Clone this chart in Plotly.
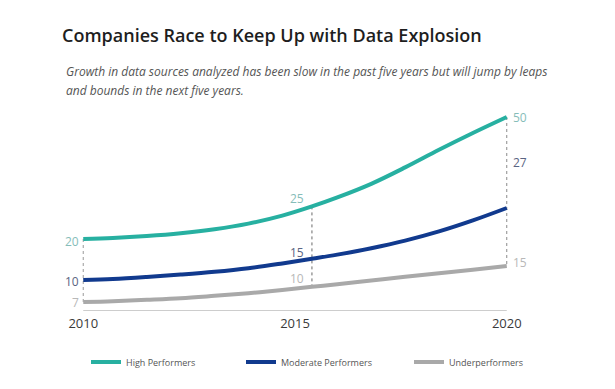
import plotly.graph_objects as go

# ---- data ----
years = [2010, 2010.7, 2011.5, 2012.3, 2013.1, 2013.9, 2014.7, 2015.4,
         2016.0, 2016.8, 2017.6, 2018.4, 2019.2, 2020]
# curve heights on the chart's own (illustrative, not to scale) 0-100 index
high_curve = [36, 36.5, 37.5, 38.9, 40.9, 43.7, 47.7, 52.3, 56.8, 63.6, 71.8, 80.6, 89, 97]
moderate_curve = [15.5, 16, 17, 18.2, 19.6, 21.4, 23.8, 26.1, 28.2, 31.4, 35.2, 39.8, 45.3, 51.5]
under_curve = [4.5, 4.9, 5.6, 6.4, 7.6, 8.9, 10.5, 12.1, 13.4, 15.3, 17.1, 18.9, 20.6, 22.5]

marker_idx = [0, 7, 13]           # points where values are called out
high_labels = ["20", "25", "50"]
moderate_labels = ["10", "15", "27"]
under_labels = ["7", "10", "15"]

tick_vals = [2010, 2015, 2020]
tick_text = ["2010", "2015", "2020"]

series_names = ["High Performers", "Moderate Performers", "Underperformers"]

# ---- styles ----
TEAL = "#27b0a1"
NAVY = "#113a8e"
GREY = "#a9a9a9"
TEAL_TXT = "#86bdb9"
NAVY_TXT = "#5a6482"
GREY_TXT = "#b8b8b8"

# page offset (browser body margin) compensation
OFF = 8
W, H = 615, 389
# plot area in window pixels: x 79..511, y 111..311
L = 79 - OFF
T = 111 - OFF
R = W - (511 - OFF)
B = H - (311 - OFF)
PW, PH = W - L - R, H - T - B


def px(xw):
    return (xw - OFF - L) / PW


def py(yw):
    return (H - B - (yw - OFF)) / PH


fig = go.Figure()

# vertical dotted call-out lines
vcolors = ["#9a9a9a", "#6a6a6a", "#8a8a8a"]
for k, i in enumerate(marker_idx):
    fig.add_trace(go.Scatter(
        x=[years[i], years[i]], y=[high_curve[i], under_curve[i]],
        mode="lines", line=dict(color=vcolors[k], width=1, dash="dot"),
        showlegend=False, hoverinfo="skip"))

curves = [high_curve, moderate_curve, under_curve]
colors = [TEAL, NAVY, GREY]
legends = ["legend", "legend2", "legend3"]
for name, ys, c, lg in zip(series_names, curves, colors, legends):
    fig.add_trace(go.Scatter(
        x=years, y=ys, name=name, mode="lines",
        line=dict(color=c, width=4, shape="spline", smoothing=1.0),
        legend=lg))

# axis baseline
fig.add_shape(type="line", xref="x", yref="y", x0=tick_vals[0], x1=tick_vals[-1],
              y0=0, y1=0, line=dict(color="#9a9a9a", width=1))

num_font = dict(family="Open Sans", size=12)
ann = []
# 2010 labels
i = marker_idx[0]
for lab, ys, col, dy in [(high_labels[0], high_curve, TEAL_TXT, -2),
                         (moderate_labels[0], moderate_curve, NAVY_TXT, -1),
                         (under_labels[0], under_curve, GREY_TXT, 0)]:
    ann.append(dict(x=years[i], y=ys[i], text=lab, showarrow=False, xanchor="right",
                    yanchor="middle", xshift=-2, yshift=dy, font=dict(num_font, color=col)))
# 2015 labels
i = marker_idx[1]
for lab, ys, col, dy in [(high_labels[1], high_curve, TEAL_TXT, 8),
                         (moderate_labels[1], moderate_curve, NAVY_TXT, 6),
                         (under_labels[1], under_curve, GREY_TXT, 8)]:
    ann.append(dict(x=years[i], y=ys[i], text=lab, showarrow=False, xanchor="right",
                    yanchor="middle", xshift=-6, yshift=dy, font=dict(num_font, color=col)))
# 2020 labels
i = marker_idx[2]
ann.append(dict(x=years[i], y=high_curve[i], text=high_labels[2], showarrow=False,
                xanchor="left", yanchor="middle", xshift=4, font=dict(num_font, color=TEAL_TXT)))
ann.append(dict(x=years[i], y=(high_curve[i] + moderate_curve[i]) / 2, text=moderate_labels[2],
                showarrow=False, xanchor="left", yanchor="middle", xshift=4,
                font=dict(num_font, color=NAVY_TXT)))
ann.append(dict(x=years[i], y=under_curve[i], text=under_labels[2], showarrow=False,
                xanchor="left", yanchor="middle", xshift=4, yshift=4,
                font=dict(num_font, color=GREY_TXT)))

# subtitle (two lines)
sub_font = dict(family="Open Sans", size=12, color="#555555", style="italic")
ann.append(dict(xref="paper", yref="paper", x=px(64), y=py(72), xanchor="left", yanchor="middle",
                text="Growth in data sources analyzed has been slow in the past five years but will jump by leaps",
                showarrow=False, font=sub_font))
ann.append(dict(xref="paper", yref="paper", x=px(64), y=py(90), xanchor="left", yanchor="middle",
                text="and bounds in the next five years.", showarrow=False, font=sub_font))

leg_common = dict(orientation="h", yanchor="middle", xanchor="left", y=py(362),
                  font=dict(family="Open Sans", size=9, color="#555555"),
                  bgcolor="rgba(0,0,0,0)", itemwidth=30)
fig.update_layout(
    width=W, height=H,
    margin=dict(l=L, r=R, t=T, b=B),
    paper_bgcolor="white", plot_bgcolor="white",
    title=dict(text="Companies Race to Keep Up with Data Explosion",
               x=(62 - OFF) / W, xref="container", xanchor="left",
               y=1 - (36 - OFF) / H, yref="container", yanchor="middle",
               font=dict(family="Open Sans", size=18, color="#1e1e1e", weight=600)),
    xaxis=dict(range=[2009.9, 2020.1], showgrid=False, zeroline=False, showline=False,
               tickvals=tick_vals, ticktext=tick_text, ticks="", ticklabelstandoff=3,
               tickfont=dict(family="Open Sans", size=13, color="#3a3a3a")),
    yaxis=dict(range=[0, 100], visible=False),
    legend=dict(leg_common, x=px(86)),
    legend2=dict(leg_common, x=px(241)),
    legend3=dict(leg_common, x=px(409)),
    annotations=ann,
    showlegend=True,
)

fig.write_html("out.html")
